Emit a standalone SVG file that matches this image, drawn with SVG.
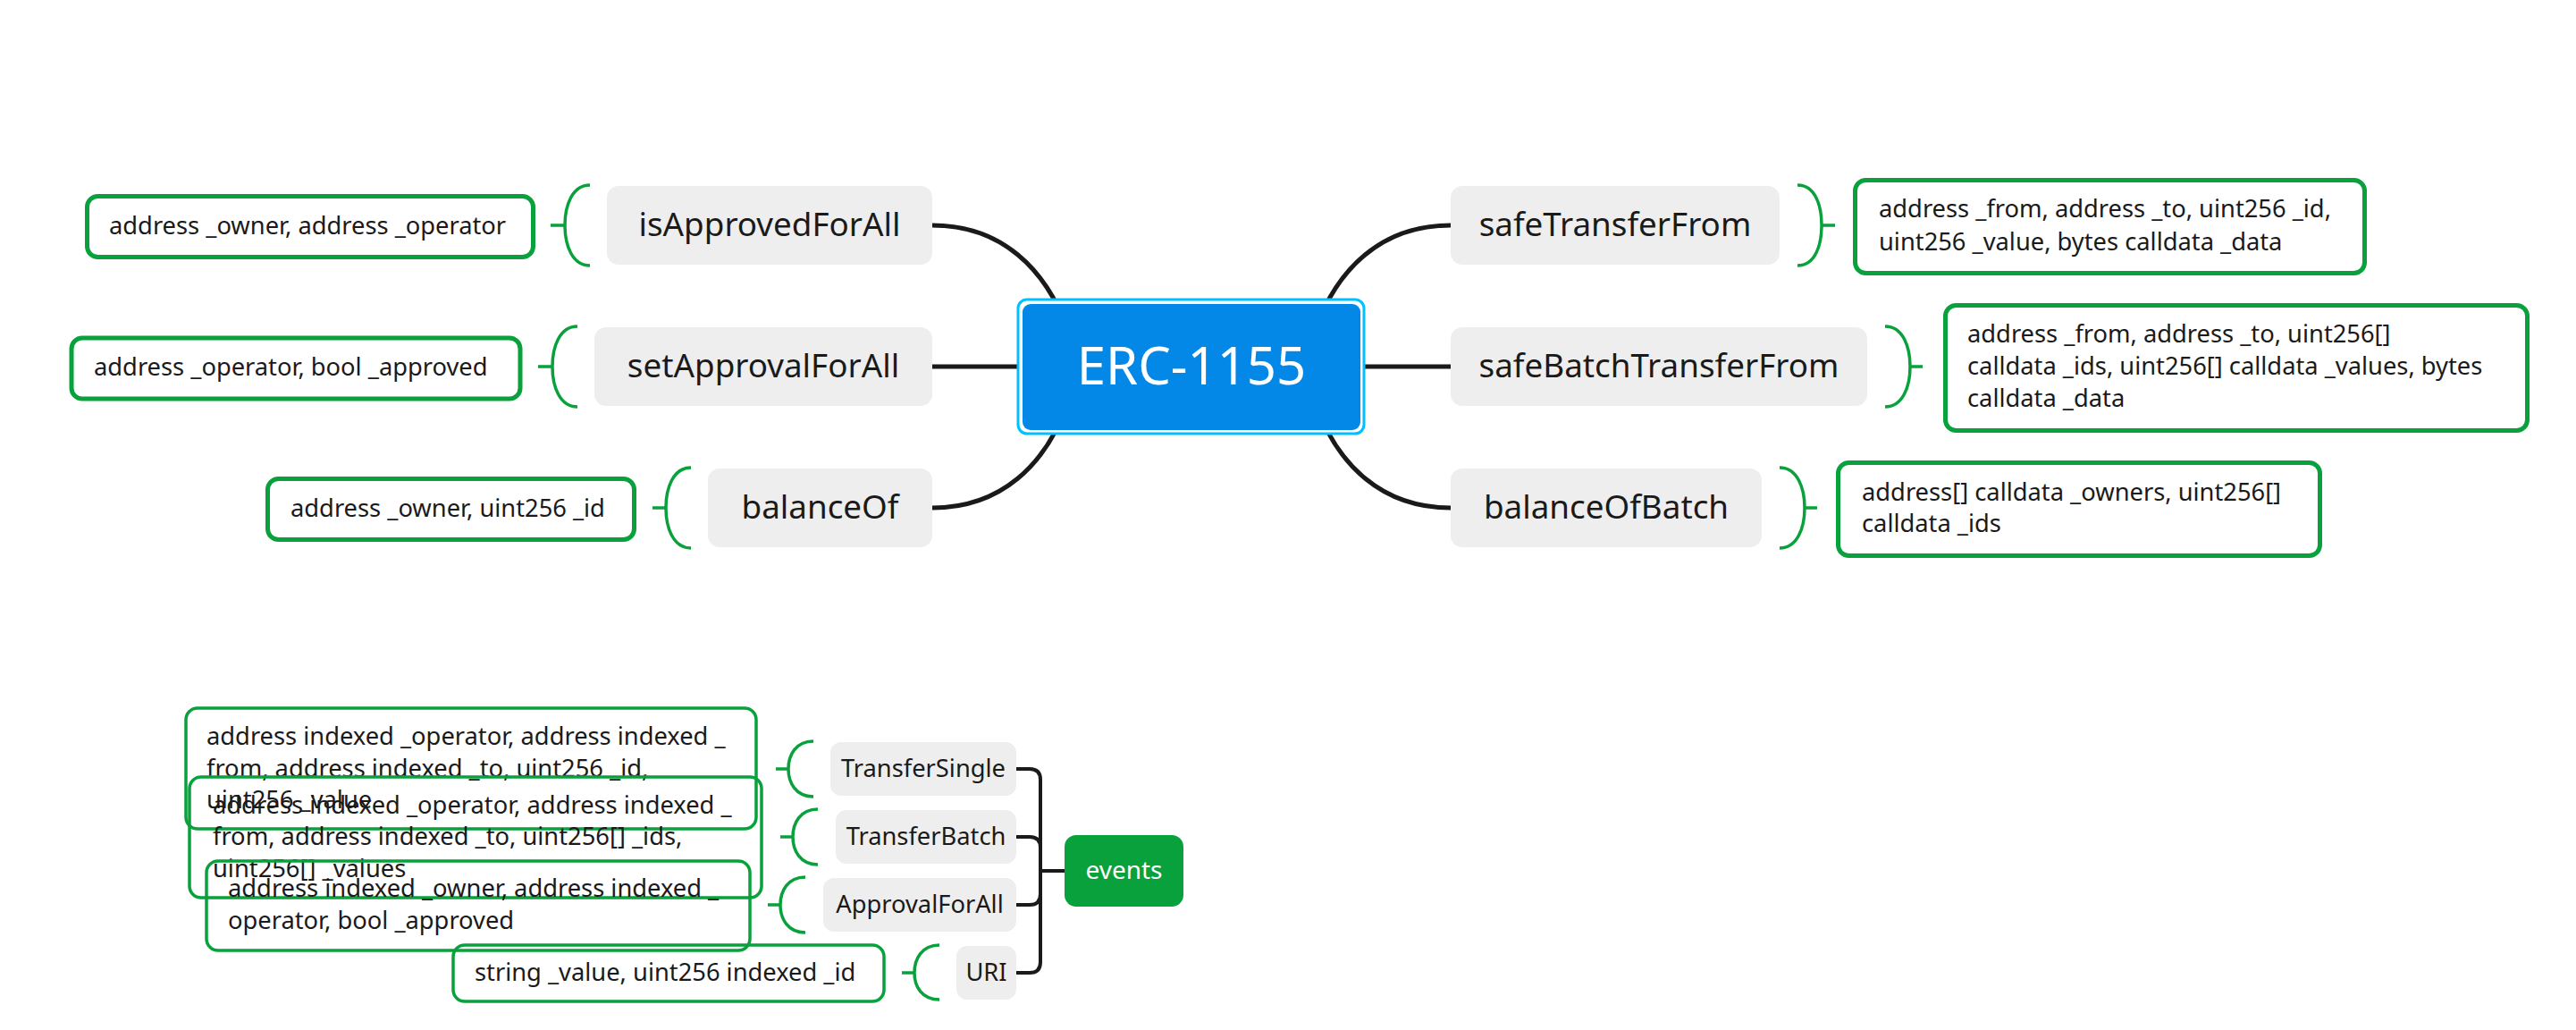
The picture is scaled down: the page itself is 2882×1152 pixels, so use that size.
<svg xmlns="http://www.w3.org/2000/svg" width="2882" height="1152" viewBox="0 0 2882 1152">
<style>
.bg{fill:#ffffff}
.conn{fill:none;stroke:#1a1a1a;stroke-width:5;stroke-linecap:round}
.tree{fill:none;stroke:#1a1a1a;stroke-width:4}
.brk{fill:none;stroke:#08a13c;stroke-width:3.5}
.node rect{fill:#eeeeee}
.lbl{font-family:"Noto Sans","Open Sans","DejaVu Sans",sans-serif;fill:#1a1a1a}
.nl{font-size:36.8px;text-anchor:middle}
.el{font-size:27.3px;text-anchor:middle}
.pt{font-size:27.3px}
.pbox{fill:#ffffff;stroke:#08a13c;stroke-width:5}
.ebox{fill:none;stroke:#08a13c;stroke-width:3.5}
</style>
<rect class="bg" x="0" y="0" width="2882" height="1152"/>

<g id="connectors">
  <path class="conn" d="M1043,252 C1120,252 1170,300 1195,370"/>
  <path class="conn" d="M1043,410 H1160"/>
  <path class="conn" d="M1043,568 C1120,568 1170,520 1195,450"/>
  <path class="conn" d="M1623,252 C1546,252 1496,300 1471,370"/>
  <path class="conn" d="M1623,410 H1505"/>
  <path class="conn" d="M1623,568 C1546,568 1496,520 1471,450"/>
  <path class="tree" d="M1137,860 H1152 Q1164,860 1164,872 V1076 Q1164,1088 1152,1088 H1137"/>
  <path class="tree" d="M1137,936 H1152 Q1164,936 1164,948"/>
  <path class="tree" d="M1137,1012 H1152 Q1164,1012 1164,1000"/>
  <path class="tree" d="M1164,974 H1192"/>
  <!-- brackets -->
  <path class="brk" d="M660,207 C640,207 632,230 632,252 C632,274 640,297 660,297 M616,252 H632"/>
  <path class="brk" d="M646,365 C626,365 618,388 618,410 C618,432 626,455 646,455 M602,410 H618"/>
  <path class="brk" d="M773,523 C753,523 745,546 745,568 C745,590 753,613 773,613 M730,568 H745"/>
  <path class="brk" d="M2011,207 C2031,207 2038,230 2038,252 C2038,274 2031,297 2011,297 M2038,252 H2053"/>
  <path class="brk" d="M2109,365 C2129,365 2137,388 2137,410 C2137,432 2129,455 2109,455 M2137,410 H2151"/>
  <path class="brk" d="M1991,523 C2011,523 2019,546 2019,568 C2019,590 2011,613 1991,613 M2019,568 H2033"/>
  <path class="brk" d="M910,829 C890,829 882,845 882,860 C882,875 890,891 910,891 M868,860 H882"/>
  <path class="brk" d="M915,905 C895,905 887,921 887,936 C887,951 895,967 915,967 M873,936 H887"/>
  <path class="brk" d="M901,981 C881,981 873,997 873,1012 C873,1027 881,1043 901,1043 M859,1012 H873"/>
  <path class="brk" d="M1051,1057 C1031,1057 1023,1073 1023,1088 C1023,1103 1031,1118 1051,1118 M1009,1088 H1023"/>
</g>

<g id="root">
  <rect x="1139" y="335" width="387" height="150" rx="10" fill="#ffffff" stroke="#00c0ff" stroke-width="3"/>
  <rect x="1144" y="340" width="378" height="141" rx="9" fill="#0388e8"/>
  <text x="1333" y="430" text-anchor="middle" font-family="'Noto Sans','Open Sans',sans-serif" font-size="58" fill="#ffffff">ERC-1155</text>
</g>

<g id="n-isApprovedForAll" class="node">
  <rect x="679" y="208" width="364" height="88" rx="13"/>
  <text class="lbl nl" x="861" y="264">isApprovedForAll</text>
</g>
<g id="n-setApprovalForAll" class="node">
  <rect x="665" y="366" width="378" height="88" rx="13"/>
  <text class="lbl nl" x="854" y="422">setApprovalForAll</text>
</g>
<g id="n-balanceOf" class="node">
  <rect x="792" y="524" width="251" height="88" rx="13"/>
  <text class="lbl nl" x="917.5" y="580">balanceOf</text>
</g>
<g id="n-safeTransferFrom" class="node">
  <rect x="1623" y="208" width="368" height="88" rx="13"/>
  <text class="lbl nl" x="1807" y="264">safeTransferFrom</text>
</g>
<g id="n-safeBatchTransferFrom" class="node">
  <rect x="1623" y="366" width="466" height="88" rx="13"/>
  <text class="lbl nl" x="1856" y="422">safeBatchTransferFrom</text>
</g>
<g id="n-balanceOfBatch" class="node">
  <rect x="1623" y="524" width="348" height="88" rx="13"/>
  <text class="lbl nl" x="1797" y="580">balanceOfBatch</text>
</g>

<g id="p-isApprovedForAll">
  <rect class="pbox" x="97.5" y="219.5" width="499" height="68" rx="12"/>
  <text class="lbl pt" x="122" y="262">address _owner, address _operator</text>
</g>
<g id="p-setApprovalForAll">
  <rect class="pbox" x="80" y="378" width="502" height="68" rx="12"/>
  <text class="lbl pt" x="105" y="420">address _operator, bool _approved</text>
</g>
<g id="p-balanceOf">
  <rect class="pbox" x="299.5" y="535.5" width="410" height="68" rx="12"/>
  <text class="lbl pt" x="325" y="578">address _owner, uint256 _id</text>
</g>
<g id="p-safeTransferFrom">
  <rect class="pbox" x="2075.5" y="201.5" width="570" height="104" rx="12"/>
  <text class="lbl pt" x="2102" y="243">address _from, address _to, uint256 _id,</text>
  <text class="lbl pt" x="2102" y="280">uint256 _value, bytes calldata _data</text>
</g>
<g id="p-safeBatchTransferFrom">
  <rect class="pbox" x="2176.5" y="341.5" width="651" height="140" rx="12"/>
  <text class="lbl pt" x="2201" y="383">address _from, address _to, uint256[]</text>
  <text class="lbl pt" x="2201" y="419">calldata _ids, uint256[] calldata _values, bytes</text>
  <text class="lbl pt" x="2201" y="455">calldata _data</text>
</g>
<g id="p-balanceOfBatch">
  <rect class="pbox" x="2056.5" y="517.5" width="539" height="104" rx="12"/>
  <text class="lbl pt" x="2083" y="560">address[] calldata _owners, uint256[]</text>
  <text class="lbl pt" x="2083" y="595">calldata _ids</text>
</g>

<g id="events">
  <rect x="1191" y="934" width="133" height="80" rx="13" fill="#08a13c"/>
  <text x="1257.5" y="983" text-anchor="middle" font-family="'Noto Sans','Open Sans',sans-serif" font-size="28" fill="#ffffff">events</text>
</g>
<g id="e-TransferSingle" class="node">
  <rect x="929" y="830" width="208" height="60" rx="12"/>
  <text class="lbl el" x="1033" y="869">TransferSingle</text>
</g>
<g id="e-TransferBatch" class="node">
  <rect x="935" y="906" width="202" height="60" rx="12"/>
  <text class="lbl el" x="1036" y="945">TransferBatch</text>
</g>
<g id="e-ApprovalForAll" class="node">
  <rect x="921" y="982" width="216" height="60" rx="12"/>
  <text class="lbl el" x="1029" y="1021">ApprovalForAll</text>
</g>
<g id="e-URI" class="node">
  <rect x="1070" y="1058" width="67" height="60" rx="12"/>
  <text class="lbl el" x="1103.5" y="1097">URI</text>
</g>

<g id="ep-TransferSingle">
  <rect class="ebox" x="208" y="792" width="638" height="135" rx="13"/>
  <text class="lbl pt" x="231" y="833">address indexed _operator, address indexed _</text>
  <text class="lbl pt" x="231" y="869">from, address indexed _to, uint256 _id,</text>
  <text class="lbl pt" x="231" y="904">uint256 _value</text>
</g>
<g id="ep-TransferBatch">
  <rect class="ebox" x="212" y="869" width="640" height="135" rx="13"/>
  <text class="lbl pt" x="238" y="910">address indexed _operator, address indexed _</text>
  <text class="lbl pt" x="238" y="945">from, address indexed _to, uint256[] _ids,</text>
  <text class="lbl pt" x="238" y="981">uint256[] _values</text>
</g>
<g id="ep-ApprovalForAll">
  <rect class="ebox" x="231" y="963" width="608" height="100" rx="13"/>
  <text class="lbl pt" x="255" y="1003">address indexed _owner, address indexed _</text>
  <text class="lbl pt" x="255" y="1039">operator, bool _approved</text>
</g>
<g id="ep-URI">
  <rect class="ebox" x="507" y="1057" width="482" height="63" rx="13"/>
  <text class="lbl pt" x="531" y="1097">string _value, uint256 indexed _id</text>
</g>
</svg>
